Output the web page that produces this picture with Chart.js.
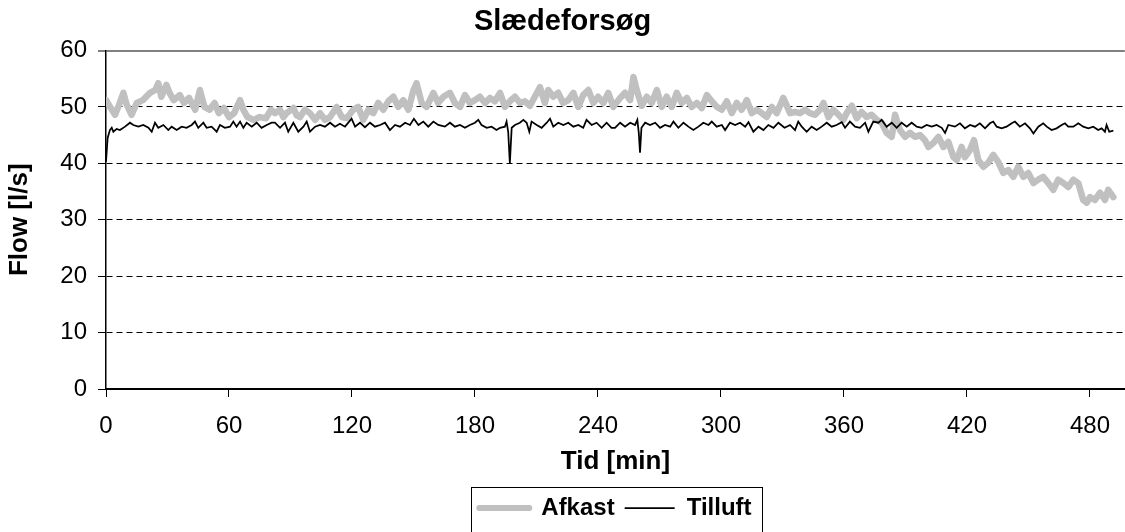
<!DOCTYPE html>
<html>
<head>
<meta charset="utf-8">
<script src="https://cdn.jsdelivr.net/npm/chart.js@4.4.1/dist/chart.umd.min.js"></script>
<style>
html,body{margin:0;padding:0;background:#fff;overflow:hidden}
canvas{display:block}
</style>
</head>
<body>
<canvas id="c" width="1125" height="532"></canvas>
<script>
const chartTitle = 'Slædeforsøg';
const xTitle = 'Tid [min]';
const yTitle = 'Flow [l/s]';
const seriesNames = ['Afkast', 'Tilluft'];
const seriesColors = ['#c0c0c0', '#000000'];
const xTicks = [0, 60, 120, 180, 240, 300, 360, 420, 480];
const yTicks = [0, 10, 20, 30, 40, 50, 60];

const afkastMin = [
  0,2,4.4,6.5,8.5,10,12.5,15,18,21.5,
  24,25.5,27,29.5,31,33,36,38,40.5,43.5,
  45.8,48,50.5,53,55,57.5,60,62.5,65.4,67,
  69,72,75,78,80.5,82.5,84.9,86.5,88.1,91.4,
  93,94.6,97,99.5,102,104.4,106.8,109.3,112.5,115,
  117.4,120.6,123,125.5,128,130.4,132.8,135.3,137.7,140.2,
  142.6,145,147.5,150,151.5,154,156.4,159.7,162,164.6,
  167.8,170.2,172.7,175.1,177.5,180,182.4,184.9,187.3,189.7,
  192.2,194.6,197,199.5,202,204.4,206.8,209.2,211.7,214.1,
  215.7,218.2,220.6,223,225.5,228,230.4,232.8,235.3,237.7,
  240.1,242.6,245,247.5,250.8,253.2,255.7,257.3,258.9,261.3,
  263.8,266.2,268.7,271.1,273.5,276,278.4,280.9,283.3,285.7,
  288.2,290.6,293.1,295.5,298,300.4,302.8,305.3,307.7,310.1,
  312.6,315,317.5,319.9,322.3,324.8,327.2,330.4,333.7,336.1,
  338.6,341,343.4,345.9,348.3,350,352.4,354.8,357.3,359.7,
  361.3,363.8,366.2,368.6,371.1,373.5,376,378.4,380.8,383.3,
  384.9,387.3,389.8,392.2,394.7,397.1,399.5,401.2,403.6,406.1,
  408.5,410.9,413.4,415,417.4,419,421.5,423.4,425.5,428,
  430.4,432.8,435.3,437.7,440.2,442.6,445,447.5,449.9,452.4,
  454.8,457.2,459.7,462.1,464.5,467,469.4,471.9,474.3,476.7,
  478.4,480,482.4,484.9,487.3,488.9,491.4
];
const afkastFlow = [
  51.2,50,48.6,50.5,52.5,50.5,48.6,50.7,51.2,52.5,
  53,54.2,51.8,53.9,52.5,51.2,52.1,50.7,51.6,49.5,
  53,50,49.5,50.7,48.9,49.8,48.2,48.9,51.2,49.5,
  48.2,47.7,48.2,48,49.5,48.9,49.5,48.2,48.9,49.8,
  48.5,48.2,49.5,48.9,47.7,48.9,47.7,48.2,50,48.2,
  48,49.5,50,47.7,49.5,48.9,50.7,49.5,51,51.8,
  50,51.2,49.5,53,54.2,50.7,50,52.5,50.7,51.8,
  52.5,50.7,50,52.1,50.7,51.2,51.8,50.7,51.6,51,
  52.5,50,51,51.8,50.7,51,50.2,51.8,53.5,50.7,
  53,51.8,52.5,50.7,51.2,52.5,50,52.1,53,50.7,
  51.8,50.7,52.5,50,51.6,52.5,51.2,55.3,53,50.2,
  51.8,50.7,53,50,51.8,50,52.5,50.7,51.6,50,
  50.7,49.8,52.1,51,50,49.5,51,48.9,50.7,49.5,
  51.2,48.9,49.5,48.9,48.2,50,48.9,51.6,48.9,49.1,
  48.9,49.5,48.9,48.6,49.5,50.7,48.2,49.5,48.6,47.7,
  48.9,50.2,48,49.1,48.2,48.6,47.7,47.2,45.4,44.7,
  48.6,45.9,44.7,45.4,44.7,45,44.1,42.9,43.6,44.7,
  42.9,43.8,41.1,40.6,42.9,41.1,42.4,44.1,40.6,39.4,
  40.1,41.5,40.2,38.3,38.8,37.6,39.4,37.6,38.3,36.5,
  37.1,37.6,36.5,35.3,37.1,36.5,35.8,37.1,36.5,33.5,
  33,34,33.5,34.8,33.5,35.3,34
];

const tilluftMin = [
  0,0.8,1.9,2.8,3.6,5.2,6.8,9.3,11.7,13.3,
  15.8,18.2,20.7,22.3,23.9,25.5,28,30.4,32,34.5,
  36.9,39.3,41.8,43.4,45,47.5,49.1,51.5,54,55.6,
  58,60.5,62.1,63.7,65.4,67,68.6,71.1,73.5,75.9,
  78.4,80.8,82.4,84.9,87.3,88.9,91.4,93.8,96.3,97.9,
  99.5,102,104.4,106.8,109.3,111.7,114.1,116.6,119.8,121.5,
  123.9,126.3,128.8,131.2,133.7,136.1,138.5,141,143.4,145.9,
  148.3,150.2,152.4,154.8,157.2,159.7,162.1,165.3,167.8,170.2,
  172.7,175.1,177.5,180,181.6,183.2,185.7,188.1,190.5,192.2,
  194.6,195.4,196.2,197,197.9,199.5,201.9,203.6,205.2,206.5,
  207.6,210.1,212.5,215,216.6,218.2,220.6,223.1,225.5,228,
  230.4,232.8,234.4,236.9,239.3,241.8,244.2,246.6,248.3,250.8,
  253.2,255.7,258.1,259.2,259.9,260.5,261.2,263,265.4,267.9,
  270.3,272.7,275.2,276.8,279.2,281.7,284.1,286.5,289,291.4,
  293.9,295.5,297.9,300.4,302,304.4,306.9,309.3,311.8,313.4,
  315.8,318.3,320.7,323.1,325.6,328,331,333.7,336.1,337.7,
  339.4,341.8,344.2,346.7,349.1,351.6,354,356.4,358.9,360.5,
  362.9,365.4,367.8,370.3,371.9,374.3,376.8,378.4,380.8,383.3,
  385.7,388.1,390.6,393,395.5,397.9,400.3,402.8,405.2,407.7,
  409.3,410.9,414.1,416.6,419,421.5,423.9,426.3,428.8,431.2,
  432.8,434.5,436.9,439.3,441.8,443.4,445.8,448.3,450.7,452.4,
  454.8,457.2,458.9,461.3,463.7,466.2,467.8,469.4,471.9,474.3,
  476.7,479.2,481.6,484,485.7,487.3,488.1,489.4,491.4
];
const tilluftFlow = [
  40.3,44.5,45.9,46.3,45.6,46.1,45.9,46.5,47.2,46.8,
  46.5,46.8,46.3,45.6,47.2,46.3,46.8,45.9,46.5,45.9,
  46.5,46.3,46.8,47.4,46.3,47.2,46.3,46.5,45.6,46.8,
  46.3,46.5,47.4,46.5,47.4,46.3,47.2,46.5,47.2,46.3,
  46.8,47.2,47.2,46.3,47.2,45.6,47.2,45.6,46.5,47.4,
  45.6,46.5,46.8,46.5,47.2,46.5,47,46.5,47.9,46.5,
  47.2,46.4,47.2,46.5,46.8,47.2,45.9,46.8,46.5,47.2,
  46.8,47.9,46.8,47.4,46.5,47.4,46.8,46.5,47.2,46.5,
  46.8,46.3,46.8,47.2,47.7,46.8,46.3,46.5,45.9,46.3,
  46.5,47.4,45.6,40,46.3,46.8,47.2,47.7,47.2,45.6,
  47.4,46.8,46.3,47.2,47.9,46.5,47.2,46.8,47.2,46.5,
  46.8,46.3,47.7,46.8,47.2,46.3,47.2,46.3,46.3,47.2,
  46.5,47.2,46.8,47.7,45.4,41.9,46.3,47.2,46.8,47.2,
  46.3,46.8,46.5,47.4,46.3,47.2,46.5,45.9,46.5,47.2,
  46.8,47.4,46.5,46.8,45.9,47.2,46.8,47.2,46.5,47.3,
  45.6,46.5,45.9,46.8,46.3,47.2,46.3,46.8,45.9,47.4,
  46.5,45.6,46.5,45.9,46.5,47.2,46.5,46.8,47.3,46.3,
  47.4,46.5,46.3,47.2,45.6,47.4,47.2,47.7,46.5,47.2,
  46.3,47.2,46.5,47.2,46.5,46.3,46.8,46.5,46.8,46.3,
  45.4,46.8,46.5,47.1,46.2,46.8,46.5,47.1,46.2,47.1,
  47.4,46.5,46.2,46.5,47.1,47.4,46.5,47.1,46.2,45.3,
  46.5,47.1,46.5,45.9,46.2,46.8,47.1,46.5,46.5,47.1,
  46.5,46.2,46.5,45.9,46.2,45.6,46.8,45.6,45.8
];

const toPoints = (xs, ys) => xs.map((x, i) => ({ x: x, y: ys[i] }));

Chart.defaults.font.family = "'Liberation Sans', Arial, sans-serif";
Chart.defaults.color = '#000';

const legendLineWidths = [6, 1.75];
const legendFrame = {
  id: 'legendFrame',
  afterDraw(chart) {
    const lg = chart.legend;
    const hb = lg && lg.legendHitBoxes;
    if (!hb || !hb.length) return;
    const last = hb[hb.length - 1];
    const left = Math.round(hb[0].left - 8) + 0.5;
    const right = Math.round(last.left + last.width + 10) + 0.5;
    const top = Math.round(hb[0].top - 9) + 0.5;
    const ctx = chart.ctx;
    ctx.save();
    ctx.strokeStyle = '#000';
    ctx.lineWidth = 1;
    ctx.strokeRect(left, top, right - left, 80);
    ctx.restore();
  }
};

new Chart(document.getElementById('c'), {
  type: 'line',
  data: {
    datasets: [
      {
        label: seriesNames[0],
        data: toPoints(afkastMin, afkastFlow),
        borderColor: seriesColors[0],
        backgroundColor: seriesColors[0],
        borderWidth: 6.5,
        pointRadius: 0,
        tension: 0,
        borderJoinStyle: 'round',
        borderCapStyle: 'round',
        order: 1
      },
      {
        label: seriesNames[1],
        data: toPoints(tilluftMin, tilluftFlow),
        borderColor: seriesColors[1],
        backgroundColor: seriesColors[1],
        borderWidth: 1.75,
        pointRadius: 0,
        tension: 0,
        order: 0
      }
    ]
  },
  options: {
    responsive: false,
    animation: false,
    devicePixelRatio: 1,
    layout: { padding: { left: 0, right: 0, top: 0, bottom: 2 } },
    scales: {
      x: {
        type: 'linear',
        min: 0,
        max: 497,
        afterBuildTicks: s => { s.ticks = xTicks.map(v => ({ value: v })); },
        afterFit: s => { s.height = 97; },
        ticks: { font: { size: 24 }, color: '#000', padding: 15, maxRotation: 0, autoSkip: false, includeBounds: false },
        grid: { drawOnChartArea: false, drawTicks: true, tickLength: 8, tickColor: '#000', tickWidth: 1 },
        border: { display: true, color: '#000', width: 2 },
        title: { display: true, text: xTitle, font: { size: 26, weight: 'bold' }, color: '#000', padding: { top: 0, bottom: 8.4 } }
      },
      y: {
        min: 0,
        max: 60,
        afterBuildTicks: s => { s.ticks = yTicks.map(v => ({ value: v })); },
        afterFit: s => { s.width = 106; },
        ticks: { font: { size: 24 }, color: '#000', padding: 11 },
        grid: {
          color: c => c.tick && c.tick.value === 60 ? '#808080' : (c.tick && c.tick.value === 0 ? 'rgba(0,0,0,0)' : '#000'),
          lineWidth: c => c.tick && c.tick.value === 60 ? 2 : 1,
          drawTicks: true,
          tickLength: 8,
          tickColor: '#000',
          tickWidth: 1
        },
        border: {
          display: true,
          color: '#000',
          width: 1.5,
          dash: c => (c.tick && c.tick.value === 60) ? [] : [6, 4]
        },
        title: { display: true, text: yTitle, font: { size: 26, weight: 'bold' }, color: '#000', padding: { top: 4.4, bottom: 0 } }
      }
    },
    plugins: {
      title: {
        display: true,
        text: chartTitle,
        font: { size: 29, weight: 'bold' },
        color: '#000',
        padding: { top: 5, bottom: 10.7 }
      },
      legend: {
        position: 'bottom',
        fullSize: false,
        labels: {
          usePointStyle: true,
          pointStyle: 'line',
          pointStyleWidth: 50,
          font: { size: 24, weight: 'bold' },
          color: '#000',
          padding: 10,
          sort: (a, b) => a.datasetIndex - b.datasetIndex,
          generateLabels: chart => {
            const items = Chart.defaults.plugins.legend.labels.generateLabels(chart);
            items.forEach(it => {
              const i = it.datasetIndex;
              it.lineWidth = legendLineWidths[i];
              it.strokeStyle = seriesColors[i];
              it.fillStyle = seriesColors[i];
              it.lineCap = i === 0 ? 'round' : 'butt';
              it.pointStyle = 'line';
            });
            return items;
          }
        }
      },
      tooltip: { enabled: false }
    }
  },
  plugins: [legendFrame]
});
</script>
</body>
</html>
